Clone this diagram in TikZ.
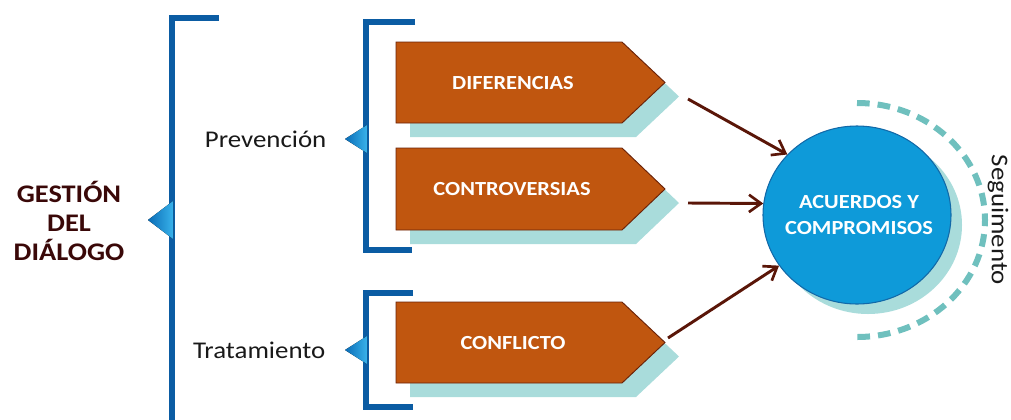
\documentclass[tikz,border=0pt]{standalone}
\usepackage{fontspec}
\setmainfont{Carlito}[FakeStretch=1.12]
\usetikzlibrary{arrows.meta,shapes.geometric}
\definecolor{brk}{HTML}{0B5CA3}
\definecolor{tridk}{HTML}{0A6CB6}
\definecolor{trilt}{HTML}{38B2EA}
\definecolor{pent}{HTML}{C0560F}
\definecolor{pentdk}{HTML}{6A2208}
\definecolor{shad}{HTML}{A9DCDB}
\definecolor{ball}{HTML}{0E9AD9}
\definecolor{balldk}{HTML}{1269A8}
\definecolor{dashc}{HTML}{6FC0BE}
\definecolor{arr}{HTML}{5A1608}
\definecolor{titlec}{HTML}{3A0808}
\newcommand\mypent[3]{% top, bottom, mid
  \fill[shad] (410,#1+14) -- (636,#1+14) -- (679,#3+14) -- (636,#2+14) -- (410,#2+14) -- cycle;
  \draw[pentbox] (396,#1) -- (622,#1) -- (665,#3) -- (622,#2) -- (396,#2) -- cycle;}
\begin{document}
\begin{tikzpicture}[x=0.75pt,y=-0.75pt,
  bracketline/.style={draw=brk,line width=4.5pt,line join=miter},
  smallbracket/.style={draw=brk,line width=3.8pt,line join=miter},
  tri/.style={left color=tridk,right color=trilt,draw=none},
  pentbox/.style={fill=pent,draw=pentdk,line width=0.7pt},
  ptext/.style={text=white,font=\fontsize{15}{18}\selectfont\bfseries},
  lbl/.style={text=black!90,font=\fontsize{18}{21}\selectfont},
  conn/.style={draw=arr,line width=2.2pt,-{Straight Barb[length=9pt,width=13pt,line width=2pt]}},
  ring/.style={draw=dashc,line width=4.5pt,dash pattern=on 9.5pt off 6pt}]
\useasboundingbox (0,0) rectangle (1011,419);

% main bracket
\draw[bracketline] (219,18) -- (172,18) -- (172,425);
\fill[tri] (173,201) -- (148,220) -- (173,239) -- cycle;
\node[font=\fontsize{19}{22}\selectfont\bfseries,text=titlec,align=center] (title) at (69,221) {GESTIÓN\\DEL\\DIÁLOGO};

% sub brackets
\draw[smallbracket] (415,22) -- (366,22) -- (366,250) -- (412,250);
\fill[tri] (367,125) -- (345,139) -- (367,153) -- cycle;
\node[lbl,anchor=base east] (prev) at (331,147) {Prevención};

\draw[smallbracket] (413,293) -- (366,293) -- (366,407) -- (413,407);
\fill[tri] (367,336) -- (345,350) -- (367,364) -- cycle;
\node[lbl,anchor=base east] (trat) at (330,358) {Tratamiento};

% pentagons
\mypent{42}{123}{82.5}
\mypent{148}{230}{189}
\mypent{302}{383}{342.5}
\node[ptext] (dif) at (513,83) {DIFERENCIAS};
\node[ptext] (con) at (512,189) {CONTROVERSIAS};
\node[ptext] (cfl) at (513,343) {CONFLICTO};

% circle
\fill[shad] (868,225) ellipse [x radius=94, y radius=89];
\node[ellipse,fill=ball,draw=balldk,line width=0.8pt,minimum width=141pt,minimum height=133.5pt,inner sep=0pt] (acu) at (857,215) {};
\node[ptext,align=center,font=\fontsize{15}{18.8}\selectfont\bfseries] (acut) at (859,215) {ACUERDOS Y\\COMPROMISOS};
\draw[ring] (857,103) arc[start angle=-90,end angle=90,x radius=128,y radius=117];
\node[lbl,rotate=-90] (seg) at (998,220) {Seguimento};

% connectors
\coordinate (s1) at (688,99);
\coordinate (s2) at (688,203);
\coordinate (s3) at (668,338);
\draw[conn] (s1) -- (acu.139);
\draw[conn] (s2) -- (acu.173);
\draw[conn] (s3) -- (acu.213);
\end{tikzpicture}
\end{document}
